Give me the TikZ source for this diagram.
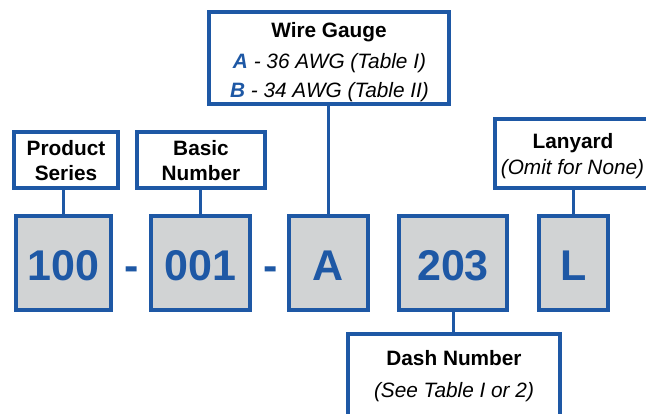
\documentclass[tikz,border=0pt]{standalone}
\usepackage{fontspec}
\setmainfont{Liberation Sans}
\definecolor{blu}{RGB}{30,88,165}
\definecolor{gry}{RGB}{209,211,212}
\begin{document}
\begin{tikzpicture}[x=1pt,y=-1pt,
  lbl/.style={draw=blu,line width=3.5pt,fill=white,inner sep=0pt},
  code/.style={draw=blu,line width=3.5pt,fill=gry,inner sep=0pt},
  link/.style={draw=blu,line width=3pt},
  head/.style={font=\fontsize{20.8}{24}\selectfont\bfseries,anchor=base,inner sep=0pt},
  note/.style={font=\fontsize{20.8}{24}\selectfont\itshape,anchor=base,inner sep=0pt},
  digit/.style={font=\fontsize{43}{43}\selectfont\bfseries,text=blu,anchor=base,inner sep=0pt}]
\useasboundingbox (0,0) rectangle (646,413);

% code boxes
\node[code,minimum width=95pt,minimum height=94pt] (c100) at (63.5,263) {};
\node[code,minimum width=99pt,minimum height=94pt] (c001) at (200.5,263) {};
\node[code,minimum width=79pt,minimum height=94pt] (cA) at (328.5,263) {};
\node[code,minimum width=108pt,minimum height=94pt] (c203) at (453,263) {};
\node[code,minimum width=69pt,minimum height=94pt] (cL) at (573.5,263) {};

\node[digit] (t100) at (63.5,280) {100};
\node[digit] (t001) at (200.5,280) {001};
\node[digit] (tA) at (328.5,280) {A};
\node[digit] (t203) at (453,280) {203};
\node[digit] (tL) at (573.5,280) {L};
\node[digit] (h1) at (132,280) {-};
\node[digit] (h2) at (271,280) {-};

% label boxes
\node[lbl,minimum width=104pt,minimum height=56pt] (ps) at (66,160) {};
\node[lbl,minimum width=128pt,minimum height=56pt] (bn) at (201,160) {};
\node[lbl,minimum width=240pt,minimum height=92pt] (wg) at (329,58) {};
\node[lbl,minimum width=155pt,minimum height=69pt] (ly) at (572.5,153.5) {};
\node[lbl,minimum width=212pt,minimum height=96pt] (dn) at (454,382) {};

% connectors
\draw[link] (c100.north) -- (c100.north |- ps.south);
\draw[link] (c001.north) -- (c001.north |- bn.south);
\draw[link] (cA.north) -- (cA.north |- wg.south);
\draw[link] (cL.north) -- (cL.north |- ly.south);
\draw[link] (c203.south) -- (c203.south |- dn.north);

% label texts
\node[head] (ps1) at (66,155) {Product};
\node[head] (ps2) at (66,180) {Series};
\node[head] (bn1) at (201,155) {Basic};
\node[head] (bn2) at (201,180) {Number};
\node[head] (wg1) at (329,37) {Wire Gauge};
\node[note] (wg2) at (329.5,68) {{\bfseries\color{blu}A} - 36 AWG (Table I)};
\node[note] (wg3) at (329.5,97) {{\bfseries\color{blu}B} - 34 AWG (Table II)};
\node[head] (ly1) at (573,148) {Lanyard};
\node[note] (ly2) at (572.5,174) {(Omit for None)};
\node[head] (dn1) at (454,365) {Dash Number};
\node[note] (dn2) at (454,397) {(See Table I or 2)};
\end{tikzpicture}
\end{document}
